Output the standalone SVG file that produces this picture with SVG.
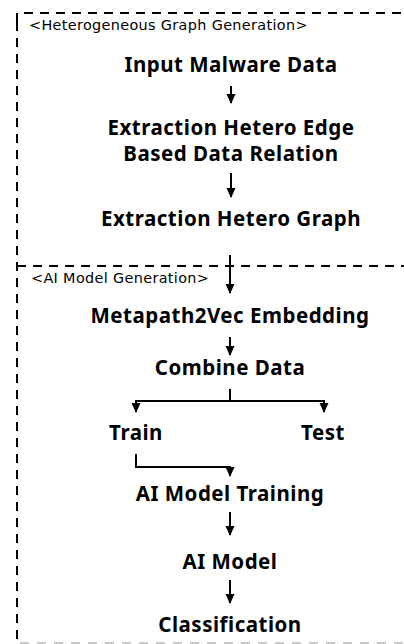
<svg xmlns="http://www.w3.org/2000/svg" width="404" height="644" viewBox="0 0 404 644">
  <style>
    .frame { fill: none; stroke: #000; stroke-width: 2; stroke-dasharray: 9 7; }
    .frame-end { fill: none; stroke: #c8c8c8; stroke-width: 2; stroke-dasharray: 9 8; }
    .step { font-family: "Noto Sans", "Liberation Sans", sans-serif; font-weight: 700; font-size: 20.5px; letter-spacing: 0.5px; text-anchor: middle; fill: #000; }
    .tag { font-family: "DejaVu Sans", "Liberation Sans", sans-serif; font-weight: 400; font-size: 14.4px; letter-spacing: 0.35px; fill: #000; }
    .link { fill: none; stroke: #000; stroke-width: 2; }
  </style>
  <defs>
    <marker id="tip" markerWidth="10" markerHeight="10" refX="9" refY="5" orient="auto" markerUnits="userSpaceOnUse" viewBox="0 0 10 10">
      <path d="M0,0.5 L10,5 L0,9.5 Z" fill="#000"/>
    </marker>
  </defs>

  <!-- section frames -->
  <g id="frames">
    <path class="frame" d="M17,22 L17,13 L404,13"/>
    <path class="frame" d="M17,22 L17,640"/>
    <path class="frame" d="M17,266 L404,266"/>
    <path class="frame-end" d="M20,643 L404,643"/>
  </g>

  <g id="section-heterogeneous">
    <text class="tag" x="29" y="30">&lt;Heterogeneous Graph Generation&gt;</text>
  </g>
  <g id="section-ai">
    <text class="tag" x="31" y="283">&lt;AI Model Generation&gt;</text>
  </g>

  <g id="input-malware-data"><text class="step" x="231" y="72">Input Malware Data</text></g>
  <g id="extraction-hetero-edge">
    <text class="step" x="231" y="135">Extraction Hetero Edge</text>
    <text class="step" x="231" y="161">Based Data Relation</text>
  </g>
  <g id="extraction-hetero-graph"><text class="step" x="231" y="226">Extraction Hetero Graph</text></g>
  <g id="metapath2vec"><text class="step" x="230" y="323">Metapath2Vec Embedding</text></g>
  <g id="combine-data"><text class="step" x="230" y="375">Combine Data</text></g>
  <g id="train"><text class="step" x="136" y="440">Train</text></g>
  <g id="test"><text class="step" x="323" y="440">Test</text></g>
  <g id="ai-model-training"><text class="step" x="230" y="501">AI Model Training</text></g>
  <g id="ai-model"><text class="step" x="230" y="569">AI Model</text></g>
  <g id="classification"><text class="step" x="230" y="632">Classification</text></g>

  <g id="connectors">
    <path class="link" d="M231,86 L231,103" marker-end="url(#tip)"/>
    <path class="link" d="M231,173 L231,197" marker-end="url(#tip)"/>
    <path class="link" d="M230,255 L230,293" marker-end="url(#tip)"/>
    <path class="link" d="M230,337 L230,355" marker-end="url(#tip)"/>
    <path class="link" d="M230,389 L230,401"/>
    <path class="link" d="M230,401 L136,401 L136,412" marker-end="url(#tip)"/>
    <path class="link" d="M230,401 L324,401 L324,412" marker-end="url(#tip)"/>
    <path class="link" d="M136,454 L136,467 L230,467 L230,476" marker-end="url(#tip)"/>
    <path class="link" d="M230,512 L230,535" marker-end="url(#tip)"/>
    <path class="link" d="M230,580 L230,603" marker-end="url(#tip)"/>
  </g>
</svg>
